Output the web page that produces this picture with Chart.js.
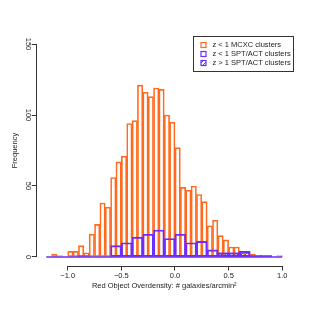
<!DOCTYPE html>
<html>
<head>
<meta charset="utf-8">
<script src="https://cdn.jsdelivr.net/npm/chart.js@4.4.1/dist/chart.umd.min.js"></script>
<style>
  html, body { margin: 0; padding: 0; background: #fff; }
  #chart { display: block; }
</style>
</head>
<body>
<canvas id="chart" width="311" height="311"></canvas>
<script>
// bin left edges and counts
const mcxcWidth = 0.05;
const mcxcBins = [-1.15, -1.10, -1.05, -1.00, -0.95, -0.90, -0.85, -0.80, -0.75, -0.70,
                  -0.65, -0.60, -0.55, -0.50, -0.45, -0.40, -0.35, -0.30, -0.25, -0.20,
                  -0.15, -0.10, -0.05, 0.00, 0.05, 0.10, 0.15, 0.20, 0.25, 0.30,
                  0.35, 0.40, 0.45, 0.50, 0.55, 0.60, 0.65, 0.70, 0.75, 0.80,
                  0.85, 0.90, 0.95];
const mcxcCounts = [2, 1, 0, 4, 4, 8, 3, 16, 23, 38,
                    35, 56, 67, 71, 94, 96, 121, 116, 113, 119,
                    118, 100, 95, 77, 49, 47, 50, 44, 39, 22,
                    26, 15, 12, 7, 7, 3, 3, 2, 1, 1,
                    1, 0, 1];

const sptWidth = 0.1;
const sptBins = [-1.2, -1.1, -1.0, -0.9, -0.8, -0.7, -0.6, -0.5, -0.4, -0.3, -0.2,
                 -0.1, 0.0, 0.1, 0.2, 0.3, 0.4, 0.5, 0.6, 0.7, 0.8, 0.9];
const sptLowCounts = [0, 0, 0, 1, 0, 0, 8, 10, 14, 16, 19, 13, 16, 10, 11, 5, 3, 3, 4, 1, 1, 0];
const sptHighCounts = [0, 0, 0, 0, 0, 0, 0, 0, 1, 0, 0, 0, 1, 1, 0, 0, 3, 3, 4, 1, 1, 0];

const seriesLabels = ['z < 1 MCXC clusters', 'z < 1 SPT/ACT clusters', 'z > 1 SPT/ACT clusters'];
const xTicks = [-1.0, -0.5, 0.0, 0.5, 1.0];
const yTicks = [0, 50, 100, 150];

const orange = '#ff6a1f';
const purple = '#6a2cff';
const textColor = '#222';
const fontFamily = "'Liberation Sans', Arial, Helvetica, sans-serif";

function makeHatch(color) {
    const c = document.createElement('canvas');
    c.width = 4;
    c.height = 4;
    const g = c.getContext('2d');
    g.strokeStyle = color;
    g.lineWidth = 1;
    g.beginPath();
    g.moveTo(0, 4); g.lineTo(4, 0);
    g.moveTo(-1, 1); g.lineTo(1, -1);
    g.moveTo(3, 5); g.lineTo(5, 3);
    g.stroke();
    return g.createPattern(c, 'repeat');
}
const hatch = makeHatch(purple);

function toPoints(edges, width, counts) {
    return edges.map((e, i) => ({ x: e + width / 2, y: counts[i] }));
}

function fixTicks(values) {
    return function (scale) {
        scale.ticks = values.map(v => ({ value: v }));
    };
}

// R style axis lines that only span the tick range
const rAxes = {
    id: 'rAxes',
    afterDraw(chart) {
        const { ctx, scales, chartArea } = chart;
        const x = scales.x, y = scales.y;
        ctx.save();
        ctx.strokeStyle = '#333';
        ctx.lineWidth = 1;
        ctx.beginPath();
        const yb = Math.round(chartArea.bottom) + 0.5;
        ctx.moveTo(x.getPixelForValue(xTicks[0]), yb);
        ctx.lineTo(x.getPixelForValue(xTicks[xTicks.length - 1]), yb);
        const xa = Math.round(chartArea.left) - 0.5;
        ctx.moveTo(xa, y.getPixelForValue(yTicks[0]));
        ctx.lineTo(xa, y.getPixelForValue(yTicks[yTicks.length - 1]));
        ctx.stroke();
        ctx.restore();
    }
};

// boxed legend in the top right corner of the plot region
const legendBox = {
    id: 'legendBox',
    afterDraw(chart) {
        const { ctx, chartArea } = chart;
        const w = 100, h = 35;
        const left = Math.round(chartArea.right + 1 - w) + 0.5;
        const top = Math.round(chartArea.top) + 0.5;
        ctx.save();
        ctx.fillStyle = '#fff';
        ctx.fillRect(left, top, w, h);
        ctx.strokeStyle = '#333';
        ctx.lineWidth = 1;
        ctx.strokeRect(left, top, w, h);

        const styles = [
            { border: orange, fill: null },
            { border: purple, fill: null },
            { border: purple, fill: hatch }
        ];
        ctx.font = '7.5px ' + fontFamily;
        ctx.textBaseline = 'middle';
        ctx.textAlign = 'left';
        seriesLabels.forEach((label, i) => {
            const cy = top + 8 + i * 9;
            const sx = left + 7.5, sy = Math.round(cy - 2.5) + 0.5;
            if (styles[i].fill) {
                ctx.fillStyle = styles[i].fill;
                ctx.fillRect(sx, sy, 5, 5);
            }
            ctx.strokeStyle = styles[i].border;
            ctx.lineWidth = 1.2;
            ctx.strokeRect(sx, sy, 5, 5);
            ctx.fillStyle = textColor;
            ctx.fillText(label, left + 19, cy);
        });
        ctx.restore();
    }
};

const ctx = document.getElementById('chart').getContext('2d');
new Chart(ctx, {
    type: 'bar',
    data: {
        datasets: [
            {
                label: seriesLabels[0],
                data: toPoints(mcxcBins, mcxcWidth, mcxcCounts),
                xAxisID: 'x',
                backgroundColor: 'rgba(255,255,255,0)',
                borderColor: orange,
                borderWidth: 1,
                borderSkipped: false,
                order: 3
            },
            {
                label: seriesLabels[1],
                data: toPoints(sptBins, sptWidth, sptLowCounts),
                xAxisID: 'x2',
                backgroundColor: 'rgba(255,255,255,0)',
                borderColor: purple,
                borderWidth: 1.2,
                borderSkipped: false,
                order: 2
            },
            {
                label: seriesLabels[2],
                data: toPoints(sptBins, sptWidth, sptHighCounts),
                xAxisID: 'x2',
                backgroundColor: hatch,
                borderColor: purple,
                borderWidth: 1.2,
                borderSkipped: false,
                order: 1
            },
            {
                // empty bins of the SPT/ACT histogram leave a line along zero
                type: 'line',
                label: 'baseline',
                data: [{ x: sptBins[0], y: 0 }, { x: sptBins[sptBins.length - 1] + sptWidth, y: 0 }],
                xAxisID: 'x2',
                borderColor: purple,
                borderWidth: 1.5,
                pointRadius: 0,
                order: 0
            }
        ]
    },
    options: {
        responsive: false,
        animation: false,
        devicePixelRatio: 1,
        layout: { padding: { top: 35.5, right: 19.3, bottom: 0, left: 0 } },
        datasets: {
            bar: { barPercentage: 1, categoryPercentage: 1, grouped: false }
        },
        plugins: {
            legend: { display: false },
            tooltip: { enabled: false }
        },
        scales: {
            x: {
                type: 'linear',
                min: -1.288,
                max: 1.088,
                offset: false,
                afterBuildTicks: fixTicks(xTicks),
                afterFit(scale) { scale.height = 45.5; },
                border: { display: false },
                grid: { offset: false, drawOnChartArea: false, drawTicks: true, tickLength: 5, color: '#333' },
                ticks: {
                    autoSkip: false,
                    maxRotation: 0,
                    minRotation: 0,
                    padding: 1,
                    color: textColor,
                    font: { family: fontFamily, size: 7.5 },
                    callback: v => v.toFixed(1).replace('-', '\u2212')
                },
                title: {
                    display: true,
                    text: 'Red Object Overdensity: # galaxies/arcmin\u00b2',
                    color: textColor,
                    font: { family: fontFamily, size: 7.5 },
                    padding: { top: 0, bottom: 20.5 }
                }
            },
            x2: {
                type: 'linear',
                display: false,
                min: -1.288,
                max: 1.088,
                offset: false,
                grid: { offset: false },
                afterBuildTicks: fixTicks(xTicks)
            },
            y: {
                type: 'linear',
                min: -6,
                max: 156,
                afterBuildTicks: fixTicks(yTicks),
                afterFit(scale) { scale.width = 36.8; },
                border: { display: false },
                grid: { drawOnChartArea: false, drawTicks: true, tickLength: 5, color: '#333' },
                ticks: {
                    autoSkip: false,
                    minRotation: -90,
                    maxRotation: -90,
                    crossAlign: 'center',
                    padding: -3,
                    color: textColor,
                    font: { family: fontFamily, size: 7.5 }
                },
                title: {
                    display: true,
                    text: 'Frequency',
                    color: textColor,
                    font: { family: fontFamily, size: 7.5 },
                    padding: { top: 10.5, bottom: 0 }
                }
            }
        }
    },
    plugins: [rAxes, legendBox]
});
</script>
</body>
</html>
